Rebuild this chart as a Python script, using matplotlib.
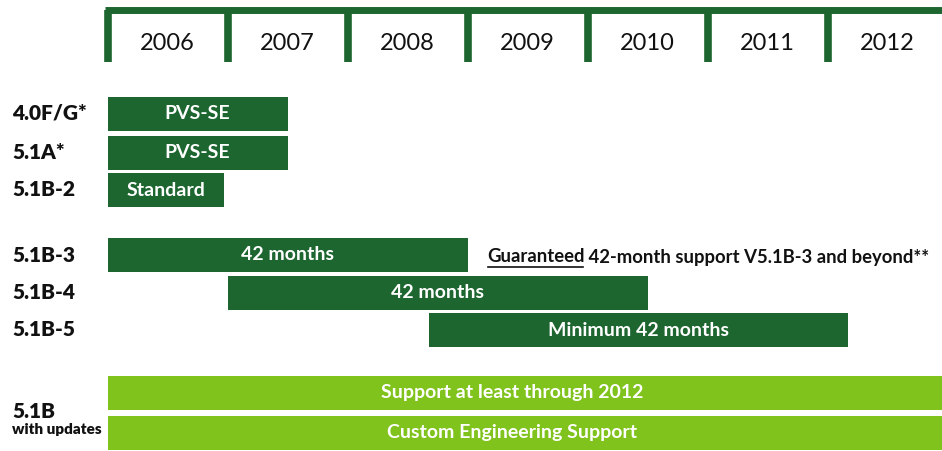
import matplotlib
matplotlib.use("Agg")
import matplotlib.pyplot as plt
from matplotlib.lines import Line2D

# ── data ────────────────────────────────────────────────────────────────
YEARS = [2006, 2007, 2008, 2009, 2010, 2011, 2012]

RELEASES   = ["4.0F/G*", "5.1A*", "5.1B-2", "5.1B-3", "5.1B-4", "5.1B-5"]
REL_START  = [2006.0, 2006.0, 2006.0, 2006.0, 2007.0, 2008.68]
REL_END    = [2007.5, 2007.5, 2006.97, 2009.0, 2010.5, 2012.17]
REL_TEXT   = ["PVS-SE", "PVS-SE", "Standard", "42 months", "42 months",
              "Minimum 42 months"]

UPD_LABEL  = "5.1B"
UPD_SUB    = "with updates"
UPD_START  = [2006.0, 2006.0]
UPD_END    = [2013.0, 2013.0]
UPD_TEXT   = ["Support at least through 2012", "Custom Engineering Support"]

NOTE_UL    = "Guaranteed"
NOTE_REST  = " 42-month support V5.1B-3 and beyond**"

# ── style / layout (pixel rows, y grows downward) ───────────────────────
DARK = "#1e6630"
LIGHT = "#80c31c"
INK = "#111111"
FONT = "Lato"
REL_Y = [113.5, 152.5, 190, 255, 292.5, 330]
UPD_Y = [392.5, 432.5]
BAR_H = 34
PX_PER_YEAR = 120.0
X0_PX = 107.5          # pixel of 2006.0
W, H = 942, 451

fig = plt.figure(figsize=(W / 100, H / 100), dpi=100)
ax = fig.add_axes([0, 0, 1, 1])
ax.set_xlim(2006 - X0_PX / PX_PER_YEAR, 2006 + (W - X0_PX) / PX_PER_YEAR)
ax.set_ylim(H, 0)
ax.axis("off")
xl = ax.get_xlim()[0] + 12 / PX_PER_YEAR

# timeline bracket
top_y = 10
ax.plot([YEARS[0] - 0.02, 2013.2], [top_y, top_y], color=DARK, lw=5,
        solid_capstyle="butt")
for yr in YEARS:
    ax.plot([yr, yr], [top_y, 62], color=DARK, lw=5.5, solid_capstyle="butt")
    ax.text(yr + 0.5, 44, str(yr), ha="center", va="center", fontsize=17,
            family=FONT, color=INK)

# release bars
for name, s, e, txt, y in zip(RELEASES, REL_START, REL_END, REL_TEXT, REL_Y):
    ax.barh(y, e - s, left=s, height=BAR_H, color=DARK, edgecolor="none")
    ax.text((s + e) / 2, y, txt, ha="center", va="center", color="white",
            fontsize=14, fontweight="bold", family=FONT)
    ax.text(xl, y, name, ha="left", va="center", fontsize=15,
            fontweight="heavy", family=FONT, color=INK)

# updates bars
for s, e, txt, y in zip(UPD_START, UPD_END, UPD_TEXT, UPD_Y):
    ax.barh(y, e - s, left=s, height=BAR_H, color=LIGHT, edgecolor="none")
    ax.text((s + 2012.75) / 2, y, txt, ha="center", va="center",
            color="white", fontsize=14, fontweight="bold", family=FONT)

ax.text(xl, 418, UPD_LABEL, ha="left", va="baseline", fontsize=15,
        fontweight="heavy", family=FONT, color=INK)
ax.text(xl, 430, UPD_SUB, ha="left", va="center", fontsize=11,
        fontweight="heavy", family=FONT, color=INK)

# guarantee note
note_x = 2006 + (487 - X0_PX) / PX_PER_YEAR
t1 = ax.text(note_x, 257, NOTE_UL, ha="left", va="center", fontsize=13.3,
             fontweight="bold", family=FONT, color=INK)
ax.annotate(NOTE_REST, xy=(1, 0.5), xycoords=t1, ha="left", va="center",
            fontsize=13.3, fontweight="bold", family=FONT, color=INK)

fig.canvas.draw()
bb = t1.get_window_extent().transformed(fig.transFigure.inverted())
uy = bb.y0 - 1.0 / H
fig.add_artist(Line2D([bb.x0 + 1.0 / W, bb.x1 - 2.0 / W], [uy, uy],
                      transform=fig.transFigure, color=INK, lw=1.2))

fig.savefig("out.png", dpi=100, facecolor="white")
